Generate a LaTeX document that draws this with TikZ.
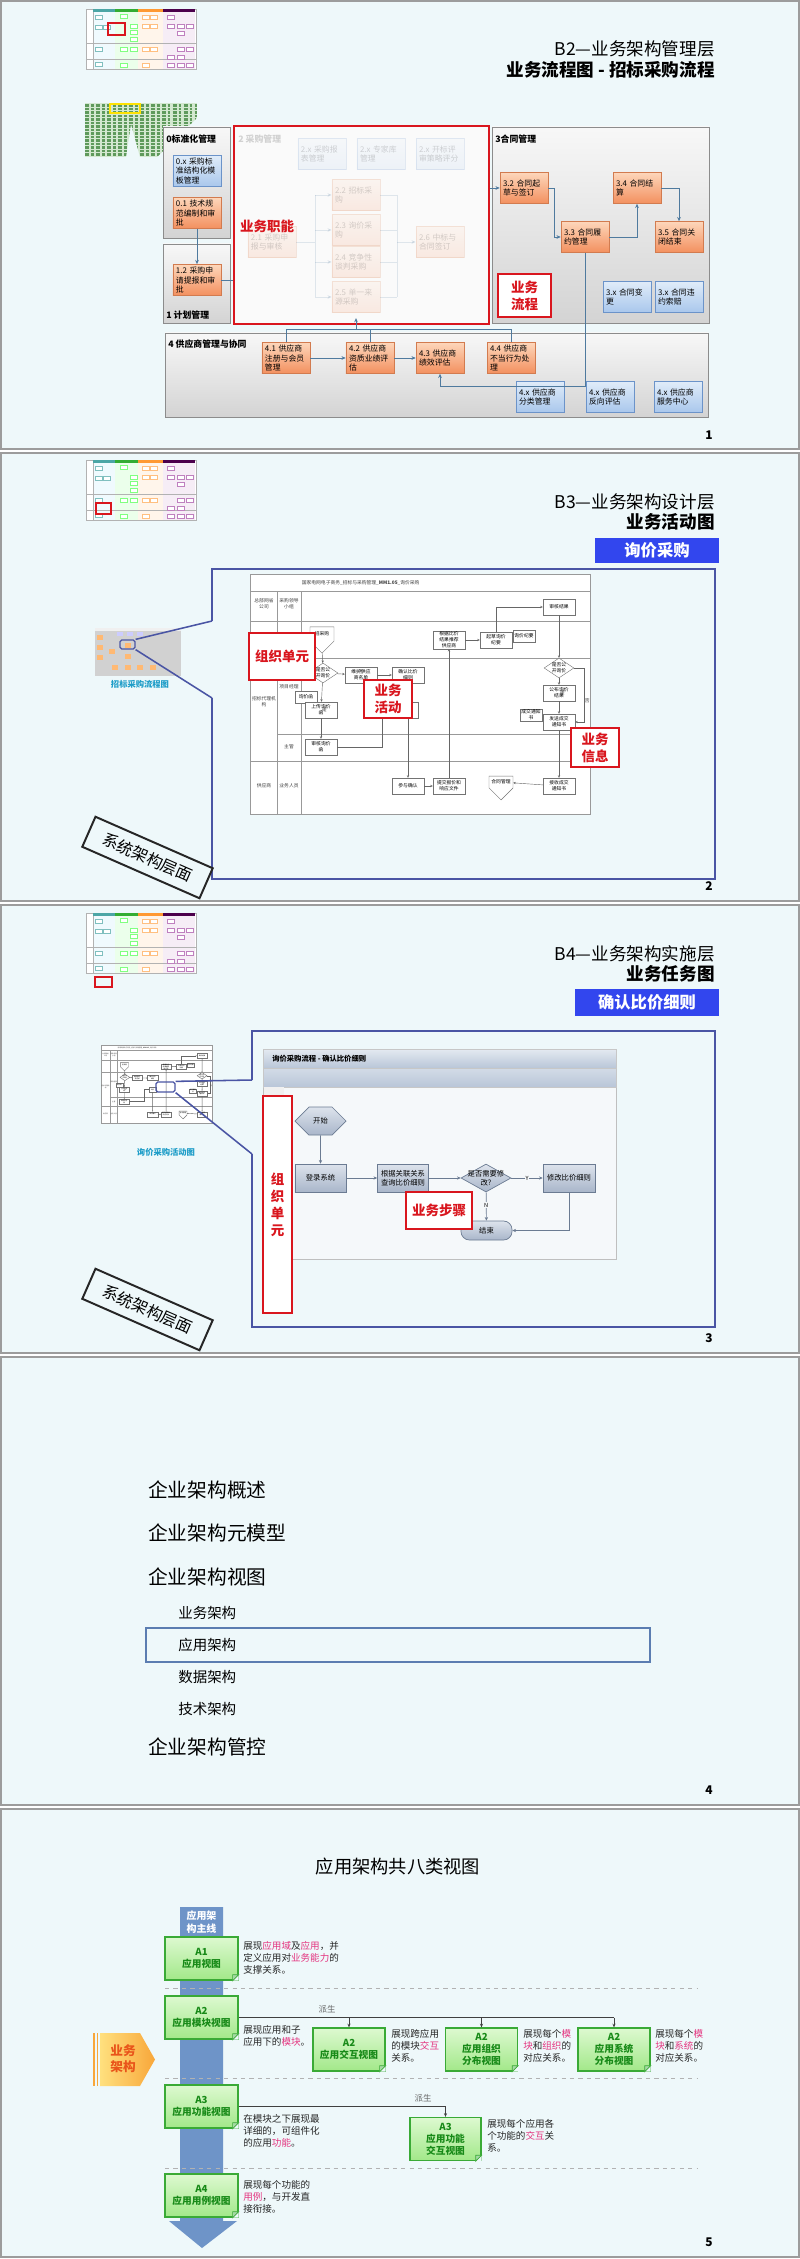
\documentclass[tikz,border=0pt]{standalone}
\usepackage{fontspec}
\setmainfont{Noto Sans CJK SC}
\usetikzlibrary{arrows.meta,positioning,calc,shapes.geometric,shapes.symbols}
\definecolor{slidebg}{HTML}{EEF8FA}
\definecolor{frameline}{HTML}{9C9C9C}
\definecolor{alarm}{HTML}{D9161E}
\definecolor{flow}{HTML}{4F7A9E}
\definecolor{procA}{HTML}{FDD6BA}
\definecolor{procB}{HTML}{F3905F}
\definecolor{procL}{HTML}{D27B4F}
\definecolor{infoA}{HTML}{E0ECF9}
\definecolor{infoB}{HTML}{A9C7EC}
\definecolor{infoL}{HTML}{6B93C9}
\definecolor{tagblue}{HTML}{3246EE}
\definecolor{calloutc}{HTML}{4A55A4}
\definecolor{capcyan}{HTML}{1E9DC8}
\definecolor{winA}{HTML}{E4EAF1}
\definecolor{winB}{HTML}{B9C6D8}
\definecolor{winbody}{HTML}{F5F8FA}
\definecolor{taskA}{HTML}{DDE3EC}
\definecolor{taskB}{HTML}{A9B6CA}
\definecolor{taskL}{HTML}{6B7B92}
\definecolor{pickline}{HTML}{5B7DB1}
\definecolor{rail}{HTML}{6E94C8}
\definecolor{leaf}{HTML}{3AAA36}
\definecolor{leafA}{HTML}{DDF9D0}
\definecolor{leafB}{HTML}{A2E889}
\definecolor{leafText}{HTML}{188A18}
\definecolor{pinkhl}{HTML}{E4347F}
\definecolor{chevA}{HTML}{FFE07E}
\definecolor{chevB}{HTML}{F8A73A}
\definecolor{chevText}{HTML}{E9541A}
\definecolor{mossA}{HTML}{D3E8D0}
\definecolor{mossB}{HTML}{5F9A5C}
\newcommand\fs[1]{\fontsize{#1pt}{\dimexpr#1pt*5/4\relax}\selectfont}
\newcommand\hl[1]{\textcolor{pinkhl}{#1}}
\tikzset{
  slide/.style={draw=frameline,line width=1.1pt,fill=slidebg},
  heading/.style={anchor=east,inner sep=0,font=\fs{12.5}},
  subheading/.style={anchor=east,inner sep=0,font=\fs{12.5}\bfseries},
  pageno/.style={inner sep=0,font=\fs{8.5}\bfseries},
  panel/.style={draw=black!45,top color=black!3,bottom color=black!17,line width=0.6pt},
  panelname/.style={anchor=west,inner sep=0,font=\fs{6.3}\bfseries},
  proc/.style={draw=procL,top color=procA,bottom color=procB,line width=0.4pt,
    minimum width=1.2cm,minimum height=0.775cm,text width=1.05cm,align=left,
    inner sep=1.5pt,font=\fs{5.6}},
  info/.style={proc,draw=infoL,top color=infoA,bottom color=infoB},
  cnx/.style={draw=flow,line width=0.6pt,-{Stealth[length=3pt,width=2.6pt]}},
  link/.style={draw=flow,line width=0.6pt},
  redtag/.style={draw=alarm,line width=1.4pt,fill=white,text=alarm,align=center,
    inner sep=0,font=\fs{9.6}\bfseries},
  tagbox/.style={fill=tagblue,text=white,inner sep=0,font=\fs{11.6}\bfseries},
  callout/.style={draw=calloutc,line width=1.1pt},
  lens/.style={draw=calloutc,line width=0.9pt,rounded corners=1.2pt,inner sep=0},
  caption/.style={text=capcyan,inner sep=0,font=\fs{5.9}\bfseries},
  planebox/.style={draw=black!85,line width=1.4pt,fill=slidebg,rotate=-23.7,
    minimum width=3.2cm,minimum height=0.82cm,inner sep=0,font=\fs{11.4}},
  lane/.style={draw=black!40,line width=0.35pt},
  lanetext/.style={inner sep=0.4pt,font=\fs{3.4},align=center,text=black!75},
  act/.style={draw=black!55,fill=white,line width=0.3pt,minimum width=0.8cm,
    minimum height=0.4cm,inner sep=0.4pt,align=center,font=\fs{3.4}},
  doc/.style={act,minimum width=0.55cm,minimum height=0.3cm},
  offpage/.style={act,signal,signal to=south,minimum width=0.6cm,minimum height=0.55cm},
  decision/.style={act,diamond,aspect=1.5,inner sep=0,minimum width=0.6cm,minimum height=0.42cm},
  wire/.style={draw=black!60,line width=0.3pt,-{Stealth[length=1.8pt,width=1.6pt]}},
  task/.style={draw=taskL,top color=taskA,bottom color=taskB,line width=0.5pt,
    minimum width=1.275cm,minimum height=0.7cm,inner sep=0.5pt,align=center,font=\fs{5.2}},
  flowarrow/.style={draw=taskL,line width=0.5pt,-{Stealth[length=2.6pt,width=2.4pt]}},
  toc/.style={anchor=west,inner sep=0,font=\fs{14}},
  tocsub/.style={anchor=west,inner sep=0,font=\fs{10.3}},
  note/.style={draw=leaf,line width=0.9pt,top color=leafA,bottom color=leafB,
    minimum width=1.825cm,minimum height=1.075cm,inner sep=0,align=center,
    text=leafText,font=\fs{6.9}\bfseries},
  memo/.style={anchor=north west,inner sep=0,align=left,font=\fs{6.8},text=black!85},
  derive/.style={draw=black!75,line width=0.5pt,-{Stealth[length=2.6pt,width=2.2pt]}},
  divider/.style={draw=black!30,dashed,line width=0.4pt},
  thumb/.pic={
    \draw[black!30,fill=white,line width=0.3pt] (0,0) rectangle (110,60);
    \fill[cyan!6] (7,3) rectangle (29,60);
    \fill[green!8] (29,3) rectangle (52,60);
    \fill[orange!8] (52,3) rectangle (77,60);
    \fill[violet!7] (77,3) rectangle (109,60);
    \fill[teal!70] (7,0) rectangle (29,3);
    \fill[green!60!black!80] (29,0) rectangle (52,3);
    \fill[orange!80] (52,0) rectangle (77,3);
    \fill[violet!60!black] (77,0) rectangle (109,3);
    \draw[black!30,line width=0.3pt] (0,34) -- (110,34) (0,50) -- (110,50) (7,3) -- (7,60);
    \foreach \bx/\by/\bc in {9/6/teal,9/16/teal,17/16/teal,9/38/teal,9/53/teal,
        34/5/green,44/15/green,44/21/green,44/28/green,34/38/green,44/38/green,34/54/green,
        56/6/orange,64/6/orange,56/15/orange,64/15/orange,56/38/orange,64/38/orange,56/54/orange,
        81/6/violet,81/15/violet,91/15/violet,100/15/violet,91/22/violet,91/38/violet,100/38/violet,
        81/46/violet,91/46/violet,81/54/violet,91/54/violet,100/54/violet}
      \draw[\bc!50,fill=white,line width=0.25pt] (\bx,\by) rectangle ++(7,4);
  },
  lanes/.pic={
    \draw[lane,fill=white] (0,0) rectangle (340,240);
    \draw[lane] (0,17) -- (340,17) (0,47) -- (340,47) (0,84) -- (340,84)
      (27,160) -- (340,160) (0,187) -- (340,187)
      (27,17) -- (27,240) (51,17) -- (51,240);
    \node[lanetext,anchor=west] (-hd) at (51,8.5) {国家电网电子商务\_招标与采购管理\_\textbf{MM1.05}\_询价采购};
    \node[lanetext] (-r1) at (14,30) {总部网省\\公司};
    \node[lanetext] (-r2) at (39,30) {采购领导\\小组};
    \node[lanetext] (-r3) at (39,113) {项目经理};
    \node[lanetext] (-r4) at (14,128) {招标代理机\\构};
    \node[lanetext] (-r5) at (39,173) {主管};
    \node[lanetext] (-r6) at (14,212) {供应商};
    \node[lanetext] (-r7) at (39,212) {业务人员};
    \node[act] (-a1) at (309,33) {审核结果};
    \node[act] (-a2) at (199,66) {根据比价\\结果推荐\\供应商};
    \node[act] (-a3) at (246,66) {起草询价\\纪要};
    \node[doc] (-d1) at (274,62) {询价纪要};
    \node[offpage] (-p1) at (72,60) {招采购};
    \node[decision] (-q1) at (73,99) {是否公\\开询价};
    \node[act] (-a4) at (111,101) {维护供应\\商名单};
    \node[act] (-a5) at (158,101) {确认比价\\细则};
    \node[doc] (-d2) at (56,123) {询价函};
    \node[act] (-a6) at (71,136) {上传询价\\函};
    \node[act,minimum width=0.5cm] (-a7) at (158,136) {询价};
    \node[act] (-a8) at (71,173) {审核询价\\函};
    \node[act] (-a9) at (158,212) {参与确认};
    \node[act] (-a10) at (199,212) {提交报价和\\响应文件};
    \node[offpage] (-p2) at (251,208) {合同管理};
    \node[act] (-a11) at (309,212) {接收成交\\通知书};
    \node[decision] (-q2) at (309,94) {是否公\\开询价};
    \node[act] (-a12) at (309,119) {公布询价\\结果};
    \node[act] (-a13) at (309,148) {发送成交\\通知书};
    \node[doc] (-d3) at (281,141) {成交通知\\书};
    \draw[wire] (-a1) -- (-q2);
    \draw[wire] (-q2) -- node[lanetext,right]{是} (-a12);
    \draw[wire] (-a12) -- (-a13);
    \draw[wire] (-a13) -- (-a11);
    \draw[wire] (-q2.east) -- ++(10,0) |- node[lanetext,right,pos=.3]{否} (-a13.east);
    \draw[wire] (-a2) -- (-a3);
    \draw[wire] (-a3.north) |- (-a1.west);
    \draw[wire] (-a10) -- (-a2);
    \draw[wire] (-p1) -- (-q1);
    \draw[wire] (-q1) -- node[lanetext,above]{否} (-a4);
    \draw[wire] (-a4) -- (-a5);
    \draw[wire] (-q1) -- node[lanetext,right]{是} (-a6);
    \draw[wire] (-a6) -- (-a8);
    \draw[wire] (-a8.east) -- ++(45,0) |- (-a7.west);
    \draw[wire] (-a7) -- (-a9);
    \draw[wire] (-a9) -- (-a10);
    \draw[wire] (-a11) -- (-p2);
  }
}
\begin{document}
\begin{tikzpicture}[x=0.025cm,y=-0.025cm]
  % canvas and slide frames
  \fill[white] (0,0) rectangle (800,2259);
  \useasboundingbox (0,0) rectangle (800,2259);
  \foreach \yt in {0,452,904,1356,1808}
    \draw[slide] (1,\yt+1) rectangle (799,\yt+449);

  % ---- slide 1: management layer
  \pic at (86,9) {thumb};
  \draw[alarm,line width=1.3pt] (108,23) rectangle (125,35);
  \node[heading] (t1) at (715,49) {B2—业务架构管理层};
  \node[subheading] (s1) at (715,70) {业务流程图 - 招标采购流程};
  \begin{scope}
    \clip (85,103) -- (197,103) -- (197,118) -- (157,157) -- (140,157) -- (131,124) -- (126,157) -- (85,157) -- cycle;
    \fill[mossA] (85,103) rectangle (197,157);
    \foreach \my in {105.5,109,...,157}
      \draw[mossB,line width=1.5pt,dash pattern=on 3pt off 1.2pt on 2pt off 1.6pt] (85,\my) -- (197,\my);
  \end{scope}
  \draw[yellow!85!orange,line width=0.8pt] (110,104) rectangle (140,113);

  \draw[panel] (163,127) rectangle (230,238);
  \draw[panel] (163,244) rectangle (230,323);
  \draw[panel] (492,127) rectangle (709,323);
  \draw[panel] (165,333) rectangle (708,417);
  \node[panelname] (g0) at (166,139) {0标准化管理};
  \node[panelname] (g1) at (166,315) {1 计划管理};
  \node[panelname] (g3) at (495,139) {3合同管理};
  \node[panelname] (g4) at (168,344) {4 供应商管理与协同};
  \node[draw=alarm,line width=1.4pt,fill=black!2,minimum width=6.375cm,minimum height=4.95cm,inner sep=0] (rb) at (361.5,225) {};

  % faded purchasing functions
  \begin{scope}[opacity=.16]
    \node[panelname] (g2) at (238,139) {2 采购管理};
    \node[info] (f2a) at (322,154) {2.x 采购报\\表管理};
    \node[info] (f2b) at (381,154) {2.x 专家库\\管理};
    \node[info] (f2c) at (440,154) {2.x 开标评\\审策略评分};
    \node[proc] (f21) at (272,242) {2.1 采购申\\报与审核};
    \node[proc] (f22) at (356,195) {2.2 招标采\\购};
    \node[proc] (f23) at (356,230) {2.3 询价采\\购};
    \node[proc] (f24) at (356,262) {2.4 竞争性\\谈判采购};
    \node[proc] (f25) at (356,297) {2.5 单一来\\源采购};
    \node[proc] (f26) at (440,242) {2.6 中标与\\合同签订};
    \coordinate (fm) at (397,242);
    \draw[link] (f21.east) -- ++(19,0) coordinate (fj);
    \draw[link] (fj |- f22.west) -- (fj |- f25.west);
    \draw[link] (fm |- f22.east) -- (fm |- f25.east);
    \foreach \fk in {f22,f23,f24,f25} {
      \draw[cnx] (fj |- \fk.west) -- (\fk.west);
      \draw[link] (\fk.east) -- (fm |- \fk.east);
    }
    \draw[cnx] (fm) -- (f26.west);
  \end{scope}

  \node[info] (n0x) at (197,171) {0.x 采购标\\准结构化模\\板管理};
  \node[proc] (n01) at (197,213) {0.1 技术规\\范编制和审\\批};
  \node[proc] (n12) at (197,280) {1.2 采购申\\请提报和审\\批};
  \node[proc] (n32) at (524,188) {3.2 合同起\\草与签订};
  \node[proc] (n34) at (637,188) {3.4 合同结\\算};
  \node[proc] (n33) at (585,237) {3.3 合同履\\约管理};
  \node[proc] (n35) at (679,237) {3.5 合同关\\闭结束};
  \node[info] (n3a) at (627,297) {3.x 合同变\\更};
  \node[info] (n3b) at (679,297) {3.x 合同违\\约索赔};
  \node[proc] (n41) at (286,358) {4.1 供应商\\注册与会员\\管理};
  \node[proc] (n42) at (370,358) {4.2 供应商\\资质业绩评\\估};
  \node[proc] (n43) at (440,358) {4.3 供应商\\绩效评估};
  \node[proc] (n44) at (511,358) {4.4 供应商\\不当行为处\\理};
  \node[info] (n4a) at (540,397) {4.x 供应商\\分类管理};
  \node[info] (n4b) at (610,397) {4.x 供应商\\反向评估};
  \node[info] (n4c) at (678,397) {4.x 供应商\\服务中心};

  \draw[cnx] (n01) -- (n12);
  \draw[link] (n12.east) -- (n12.east -| rb.west);
  \draw[cnx] (n32.west -| rb.east) -- (n32.west);
  \draw[cnx] (n32.east) -- ++(6,0) |- (n33.west);
  \draw[cnx] (n33.east) -| (n34.south);
  \draw[cnx] (n34.east) -| (n35.north);
  \draw[cnx] (n33.south) -- ++(0,134) -| (n43.south);
  \draw[cnx] (n41) -- (n42);
  \draw[cnx] (n42) -- (n43);
  \draw[link] (n41.north) -- ++(0,-13) -| (n44.north);
  \draw[cnx] (n42.north) -- ++(0,-13) -- ++(-14,0) -- ++(0,-11);

  \node[text=alarm,font=\fs{9.6}\bfseries,inner sep=0] (bf) at (267,226) {业务职能};
  \node[redtag,minimum width=1.325cm,minimum height=1.075cm] (bp) at (524.5,295.5) {业务\\流程};
  \node[pageno] (pg1) at (709,435) {1};

  % ---- slide 2: design layer
  \pic at (86,460) {thumb};
  \draw[alarm,line width=1.3pt] (96,503) rectangle (111,514);
  \node[heading] (t2) at (715,502) {B3—业务架构设计层};
  \node[subheading] (s2) at (715,522) {业务活动图};
  \node[tagbox,minimum width=3.1cm,minimum height=0.625cm] (k2) at (657,550.5) {询价采购};
  \fill[black!18] (95,628) rectangle (181,676);
  \fill[black!6] (95,628) rectangle (181,631);
  \foreach \mx/\my in {100/637,100/647,100/657,112/651,128/645,128/656,115/667,128/667,140/667,153/667}
    \fill[orange!55] (\mx-3,\my-2.5) rectangle (\mx+3,\my+2.5);
  \foreach \mx in {120,130,140}
    \fill[blue!20] (\mx-3,632) rectangle (\mx+3,636);
  \node[lens,minimum width=0.375cm,minimum height=0.225cm] (hl2) at (127.5,644.5) {};
  \node[caption] (c2) at (140,684) {招标采购流程图};
  \coordinate (e2a) at (212,621);
  \coordinate (e2b) at (212,698);
  \draw[callout] (e2a) -- (212,569) -- (715,569) -- (715,879) -- (212,879) -- (e2b);
  \draw[callout] (e2a) -- (hl2.north east);
  \draw[callout] (e2b) -- (hl2.south east);
  \pic (big) at (250,574) {lanes};
  \node[redtag,minimum width=1.65cm,minimum height=1.175cm] (u2) at (282,656.5) {组织单元};
  \node[redtag,minimum width=1.2cm,minimum height=0.95cm] (v2) at (388,699) {业务\\活动};
  \node[redtag,minimum width=1.2cm,minimum height=0.975cm] (w2) at (595,747.5) {业务\\信息};
  \node[planebox] (y2) at (147.5,857.5) {系统架构层面};
  \node[pageno] (pg2) at (709,886) {2};

  % ---- slide 3: implementation layer
  \pic at (86,913) {thumb};
  \draw[alarm,line width=1.3pt] (95,977) rectangle (112,987);
  \node[heading] (t3) at (715,954) {B4—业务架构实施层};
  \node[subheading] (s3) at (715,974) {业务任务图};
  \node[tagbox,minimum width=3.6cm,minimum height=0.675cm] (k3) at (647,1002.5) {确认比价细则};
  \pic[scale=0.327,transform shape,wire/.append style={-{Stealth[length=0.8pt,width=0.7pt]}}] (mini) at (101,1045) {lanes};
  \node[lens,minimum width=0.475cm,minimum height=0.25cm] (hl3) at (165.5,1087) {};
  \node[caption] (c3) at (166,1152) {询价采购活动图};
  \coordinate (e3a) at (252,1080);
  \coordinate (e3b) at (252,1154);
  \draw[callout] (e3a) -- (252,1031) -- (715,1031) -- (715,1327) -- (252,1327) -- (e3b);
  \draw[callout] (e3a) -- (hl3.north east);
  \draw[callout] (e3b) -- (hl3.south east);
  \draw[black!25,fill=winbody] (263,1049) rectangle (616,1259);
  \shade[top color=winA,bottom color=winB] (263,1049) rectangle (616,1068);
  \shade[top color=winA!60!winB,bottom color=winB] (263,1068) rectangle (616,1087);
  \draw[black!22] (263,1049) rectangle (616,1087) (263,1068) -- (616,1068);
  \fill[black!6] (263.5,1087) rectangle (284,1258.5);
  \node[anchor=west,inner sep=0,font=\fs{5.2}\bfseries] (w3) at (272,1058.5) {询价采购流程 - 确认比价细则};
  \node[task,signal,signal to=east and west] (z0) at (320.5,1121) {开始};
  \node[task] (z1) at (320.5,1178) {登录系统};
  \node[task] (z2) at (403,1178) {根据关联关系\\查询比价细则};
  \node[task,diamond,inner sep=0,minimum width=1.25cm,minimum height=0.7cm] (z3) at (486,1178) {};
  \node[inner sep=0,font=\fs{5.2},align=center] (z3t) at (486,1178) {是否需要修\\改?};
  \node[task,minimum width=1.3cm] (z4) at (569,1178) {修改比价细则};
  \node[task,rounded corners=6pt,minimum height=0.475cm] (z5) at (486.5,1230.5) {结束};
  \draw[flowarrow] (z0) -- (z1);
  \draw[flowarrow] (z1) -- (z2);
  \draw[flowarrow] (z2) -- (z3);
  \draw[flowarrow] (z3) -- node[fill=winbody,inner sep=0.5pt,font=\fs{4}]{Y} (z4);
  \draw[flowarrow] (z3) -- node[fill=winbody,inner sep=0.5pt,font=\fs{4},pos=.45]{N} (z5);
  \draw[flowarrow] (z4.south) |- (z5.east);
  \node[redtag,minimum width=0.725cm,minimum height=5.425cm] (u3) at (277.5,1204.5) {组\\织\\单\\元};
  \node[redtag,minimum width=1.65cm,minimum height=0.925cm] (v3) at (439,1210.5) {业务步骤};
  \node[planebox] (y3) at (147.5,1309.5) {系统架构层面};
  \node[pageno] (pg3) at (709,1338) {3};

  % ---- slide 4: contents
  \node[toc] (o1) at (148,1490) {企业架构概述};
  \node[toc] (o2) at (148,1533) {企业架构元模型};
  \node[toc] (o3) at (148,1577) {企业架构视图};
  \node[tocsub] (o4) at (178,1613) {业务架构};
  \draw[pickline,line width=0.9pt] (146,1628) rectangle (650,1662);
  \node[tocsub] (o5) at (178,1645) {应用架构};
  \node[tocsub] (o6) at (178,1677) {数据架构};
  \node[tocsub] (o7) at (178,1709) {技术架构};
  \node[toc] (o8) at (148,1747) {企业架构管控};
  \node[pageno] (pg4) at (709,1790) {4};

  % ---- slide 5: application views
  \node[inner sep=0,font=\fs{13}] (h5) at (398,1867) {应用架构共八类视图};
  \fill[rail] (180,1907) -- (223,1907) -- (223,2221) -- (237,2221) -- (202,2248) -- (169,2221) -- (180,2221) -- cycle;
  \node[text=white,inner sep=0,align=center,font=\fs{7.1}\bfseries] (r5) at (201.5,1922) {应用架\\构主线};
  \foreach \dy in {1988,2078,2168}
    \draw[divider] (165,\dy) -- (697,\dy);
  \shade[left color=chevA,right color=chevB] (100,2033) -- (140,2033) -- (155,2059.5) -- (140,2086) -- (100,2086) -- cycle;
  \fill[chevB] (93,2033) rectangle (94.5,2086);
  \fill[chevB] (96.5,2033) rectangle (98,2086);
  \node[text=chevText,inner sep=0,align=center,font=\fs{9}\bfseries] (b5) at (123,2059) {业务\\架构};

  \node[note] (A1) at (201.5,1958.5) {A1\\应用视图};
  \node[note] (A2) at (201.5,2017.5) {A2\\应用模块视图};
  \node[note] (A3) at (201.5,2106.5) {A3\\应用功能视图};
  \node[note] (A4) at (201.5,2195.5) {A4\\应用用例视图};
  \node[note,minimum width=1.8cm] (B1) at (349,2049.5) {A2\\应用交互视图};
  \node[note,minimum width=1.8cm] (B2) at (481.5,2049.5) {A2\\应用组织\\分布视图};
  \node[note,minimum width=1.8cm] (B3) at (614,2049.5) {A2\\应用系统\\分布视图};
  \node[note,minimum width=1.775cm] (C1) at (445.5,2139) {A3\\应用功能\\交互视图};
  \foreach \nn in {A1,A2,A3,A4,B1,B2,B3,C1} {
    \fill[slidebg] (\nn.south east) -- ++(-6,0) -- ++(6,-6) -- cycle;
    \filldraw[draw=leaf,fill=leaf!45,line width=0.5pt] (\nn.south east) ++(-6,0) -- ++(6,-6) -- ++(-6,0) -- cycle;
  }

  \node[memo] (d1) at (243,1941) {展现\hl{应用域}及\hl{应用}，并\\定义应用对\hl{业务能力}的\\支撑关系。};
  \node[memo] (d2) at (243,2025) {展现应用和子\\应用下的\hl{模块}。};
  \node[memo] (d3) at (391,2029) {展现跨应用\\的模块\hl{交互}\\关系。};
  \node[memo] (d4) at (523,2029) {展现每个\hl{模}\\\hl{块}和\hl{组织}的\\对应关系。};
  \node[memo] (d5) at (655,2029) {展现每个\hl{模}\\\hl{块}和\hl{系统}的\\对应关系。};
  \node[memo] (d6) at (243,2114) {在模块之下展现最\\详细的，可组件化\\的应用\hl{功能}。};
  \node[memo] (d7) at (487,2119) {展现每个应用各\\个功能的\hl{交互}关\\系。};
  \node[memo] (d8) at (243,2180) {展现每个功能的\\\hl{用例}，与开发直\\接衔接。};

  \draw[derive,-] (A2.east) -- (A2.east -| B3.north);
  \foreach \nn in {B1,B2,B3}
    \draw[derive] (A2.east -| \nn.north) -- (\nn.north);
  \draw[derive] (A3.east) -| (C1.north);
  \node[font=\fs{6},text=black!60,inner sep=0] (q1) at (327,2009) {派生};
  \node[font=\fs{6},text=black!60,inner sep=0] (q2) at (423,2098) {派生};
  \node[pageno] (pg5) at (709,2242) {5};
\end{tikzpicture}
\end{document}
